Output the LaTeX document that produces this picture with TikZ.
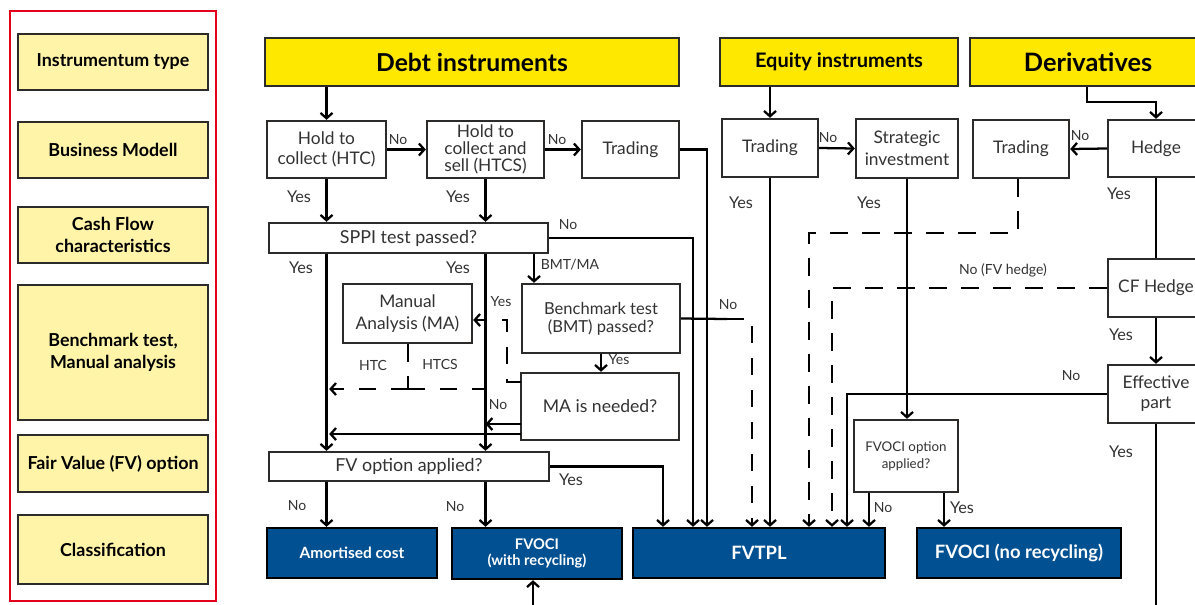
\documentclass[tikz,border=0pt]{standalone}
\usepackage{fontspec}
\setmainfont{Lato}
\usetikzlibrary{arrows.meta,positioning}
\definecolor{hdyellow}{RGB}{255,232,0}
\definecolor{lpyellow}{RGB}{255,244,168}
\definecolor{ingblue}{RGB}{0,80,146}
\definecolor{boxline}{RGB}{45,42,42}
\definecolor{framered}{RGB}{226,0,26}
\definecolor{txtgray}{RGB}{50,50,50}

\begin{document}
\begin{tikzpicture}[line join=miter,>={Straight Barb[length=4pt,width=9pt]},x=0.75pt,y=-0.75pt,
  wh/.style 2 args={minimum width=#1*0.75pt,minimum height=#2*0.75pt},
  lpbox/.style={draw=boxline,line width=1.8pt,fill=lpyellow,align=center,inner sep=0pt,font=\bfseries\fontsize{13.4}{16.5}\selectfont},
  hdbox/.style={draw=boxline,line width=1.8pt,fill=hdyellow,inner sep=0pt},
  qbox/.style={draw=boxline,line width=1.8pt,fill=white,text=txtgray,align=center,inner sep=0pt,font=\fontsize{13}{15.5}\selectfont},
  clbox/.style={draw=black,line width=1.8pt,fill=ingblue,text=white,align=center,inner sep=0pt,font=\bfseries\fontsize{13.8}{16}\selectfont},
  lbl/.style={text=txtgray,inner sep=0pt,font=\fontsize{12.2}{13}\selectfont},
  slbl/.style={text=txtgray,inner sep=0pt,font=\fontsize{10.5}{12}\selectfont},
  conn/.style={line width=1.7pt},
  dline/.style={line width=1.7pt,dash pattern=on 13pt off 11pt}]
\useasboundingbox (0,0) rectangle (1195,604);
\clip (0,0) rectangle (1195,604);

% left panel
\draw[framered,line width=1.8pt] (10,11) rectangle (216,601);
\node[lpbox,wh={190}{56}] (lpType) at (113,62) {Instrumentum type};
\node[lpbox,wh={190}{56}] (lpModel) at (113,150) {Business Modell};
\node[lpbox,wh={190}{56}] (lpCash) at (113,235) {Cash Flow\\characteristics};
\node[lpbox,wh={190}{135}] (lpBench) at (113,352.5) {Benchmark test,\\Manual analysis};
\node[lpbox,wh={190}{57}] (lpFV) at (113,463.5) {Fair Value (FV) option};
\node[lpbox,wh={190}{69}] (lpClass) at (113,549.5) {Classification};

% instrument types
\node[hdbox,wh={414}{48},font=\bfseries\fontsize{18.5}{20}\selectfont] (debt) at (472,62) {Debt instruments};
\node[hdbox,wh={238}{48},font=\bfseries\fontsize{15}{16}\selectfont] (equity) at (839,62) {Equity instruments};
\node[hdbox,wh={236}{48},font=\bfseries\fontsize{19}{20}\selectfont] (deriv) at (1088,62) {Derivatives};

% business models
\node[qbox,wh={119}{57}] (htc) at (326.5,149.5) {Hold to\\collect (HTC)};
\node[qbox,wh={117}{57},font=\fontsize{13}{13}\selectfont] (htcs) at (485.5,149.5) {Hold to\\collect and\\sell (HTCS)};
\node[qbox,wh={97}{57}] (dtrade) at (630.5,149.5) {Trading};
\node[qbox,wh={96}{58}] (etrade) at (770,148) {Trading};
\node[qbox,wh={102}{59},font=\fontsize{13}{16.5}\selectfont] (strat) at (907,148.5) {Strategic\\investment};
\node[qbox,wh={96}{58}] (vtrade) at (1021,149) {Trading};
\node[qbox,wh={96}{57}] (hedge) at (1156,148.5) {Hedge};
\node[qbox,wh={96}{58}] (cfhedge) at (1156,288) {CF Hedge};
\node[qbox,wh={96}{58},font=\fontsize{13}{15}\selectfont] (effective) at (1156,394) {Effective\\part};

% tests
\node[qbox,wh={279}{30},font=\fontsize{13.4}{15}\selectfont] (sppi) at (408.5,238) {SPPI test passed?};
\node[qbox,wh={158}{69},font=\fontsize{12.4}{13.75}\selectfont] (bmt) at (601,318.5) {Benchmark test\\(BMT) passed?};
\node[qbox,wh={129}{59},font=\fontsize{13}{16}\selectfont] (mana) at (407.5,313.5) {Manual\\Analysis (MA)};
\node[qbox,wh={158}{67},font=\fontsize{13.2}{15}\selectfont] (maneed) at (600,406.5) {MA is needed?};
\node[qbox,wh={280}{29},font=\fontsize{13.4}{15}\selectfont] (fvopt) at (409,466.5) {FV option applied?};
\node[qbox,wh={104}{72},font=\fontsize{10}{12.5}\selectfont] (fvociopt) at (906,456) {FVOCI option\\applied?};

% classification
\node[clbox,wh={170}{50},font=\bfseries\fontsize{11.6}{12}\selectfont] (amort) at (352,553) {Amortised cost};
\node[clbox,wh={170}{51},font=\bfseries\fontsize{11}{12.5}\selectfont] (fvocirec) at (537,553.5) {FVOCI\\(with recycling)};
\node[clbox,wh={252}{50}] (fvtpl) at (759,553) {FVTPL};
\node[clbox,wh={204}{50}] (fvocinr) at (1019,553) {FVOCI (no recycling)};

\coordinate (lnFVyes) at (663,0);
\coordinate (lnSPPIno) at (693,0);
\coordinate (lnDtrade) at (707,0);
\coordinate (lnBMTno) at (752,0);
\coordinate (lnVtrade) at (809,0);
\coordinate (lnFVhedge) at (832,0);
\coordinate (lnEff) at (847,0);
\coordinate (lnOptNo) at (869,0);
\coordinate (lnOptYes) at (944,0);
\coordinate (lnBMT) at (534,0);
\coordinate (dbend) at (1087,102);
\coordinate (vbend) at (1018,233);
\coordinate (bmtmid) at (727,319);
\coordinate (mnNo) at (521,424);
\coordinate (mnLow) at (521,434);
\coordinate (mnYes) at (521,382);
\coordinate (mybend) at (507,320);
\coordinate (mabr) at (408,389);
\coordinate (recin) at (533,610);
\coordinate (effout) at (1156,610);

% debt instruments
\draw[conn,->] (htc.north |- debt.south) -- (htc.north);
\draw[conn,->] (htc.east) -- (htcs.west);
\draw[conn,->] (htcs.east) -- (dtrade.west);
\draw[conn,->] (dtrade.east) -| (lnDtrade |- fvtpl.north);
\draw[conn,->] (htc.south) -- (htc.south |- sppi.north);
\draw[conn,->] (htcs.south) -- (htcs.south |- sppi.north);
\draw[conn,->] (sppi.east) -| (lnSPPIno |- fvtpl.north);
\draw[conn,->] (sppi.south -| htc.south) -- (htc.south |- fvopt.north);
\draw[conn,->] (sppi.south -| htcs.south) -- (htcs.south |- fvopt.north);
\draw[conn,->] (sppi.south -| lnBMT) -- (lnBMT |- bmt.north);
\draw[conn,->] (bmt.south) -- (bmt.south |- maneed.north);
\draw[conn] (bmt.east) -- (bmtmid);
\draw[dline,->] (bmtmid) -| (lnBMTno |- fvtpl.north);
\draw[conn,->] (mnNo) -- (mnNo -| htcs.south);
\draw[conn,->,shorten >=2pt] (mnLow) -- (mnLow -| htc.south);
\draw[dline,->] (mnYes) -| (mybend) -- (mybend -| mana.east);
\draw[dline] (mana.south -| mabr) -- (mabr);
\draw[dline,->,shorten >=2pt] (mabr) -- (mabr -| htc.south);
\draw[dline] (mabr) -- (mabr -| htcs.south);
\draw[conn,->] (fvopt.south -| htc.south) -- (htc.south |- amort.north);
\draw[conn,->] (fvopt.south -| htcs.south) -- (htcs.south |- fvocirec.north);
\draw[conn,->] (fvopt.east) -| (lnFVyes |- fvtpl.north);
\draw[conn,->] (recin) -- (recin |- fvocirec.south);

% equity instruments
\draw[conn,->] (etrade.north |- equity.south) -- (etrade.north);
\draw[conn,->] (etrade.east) -- (strat.west);
\draw[conn,->] (etrade.south) -- (etrade.south |- fvtpl.north);
\draw[conn,->] (strat.south) -- (strat.south |- fvociopt.north);
\draw[conn,->] (fvociopt.south -| lnOptNo) -- (lnOptNo |- fvtpl.north);
\draw[conn,->] (fvociopt.south -| lnOptYes) -- (lnOptYes |- fvocinr.north);

% derivatives
\draw[conn,->] (dbend |- deriv.south) -- (dbend) -| (hedge.north);
\draw[conn,->] (hedge.west) -- (vtrade.east);
\draw[conn] (hedge.south) -- (cfhedge.north);
\draw[conn,->] (cfhedge.south) -- (effective.north);
\draw[conn] (effective.south) -- (effout);
\draw[conn,->] (effective.west) -| (lnEff |- fvtpl.north);
\draw[dline,->] (cfhedge.west) -| (lnFVhedge |- fvtpl.north);
\draw[dline,->] (vtrade.south -| vbend) |- (lnVtrade |- vbend) -- (lnVtrade |- fvtpl.north);

% labels
\node[slbl] (nHtc) at (398,140) {No};
\node[slbl] (nHtcs) at (557,140) {No};
\node[lbl] (yHtc) at (299,197) {Yes};
\node[lbl] (yHtcs) at (458,197) {Yes};
\node[slbl] (nSppi) at (568,225) {No};
\node[lbl] (ySppiL) at (301,268) {Yes};
\node[lbl] (ySppiR) at (458,268) {Yes};
\node[slbl] (bmtma) at (570,265) {BMT/MA};
\node[slbl] (yBmt) at (619,360) {Yes};
\node[slbl] (yMa) at (501,302) {Yes};
\node[slbl] (htcLbl) at (373,365) {HTC};
\node[slbl] (htcsLbl) at (440,364) {HTCS};
\node[slbl] (nMa) at (498,405) {No};
\node[slbl] (nBmt) at (728,305) {No};
\node[lbl] (yFv) at (571,480) {Yes};
\node[slbl] (nFvL) at (297,506) {No};
\node[slbl] (nFvR) at (455,507) {No};
\node[lbl] (yEq) at (741,203) {Yes};
\node[slbl] (nEq) at (828,138) {No};
\node[lbl] (yStrat) at (869,203) {Yes};
\node[slbl] (nHedge) at (1080,136) {No};
\node[lbl] (yHedge) at (1119,194) {Yes};
\node[slbl] (nFvh) at (1003,270) {No (FV hedge)};
\node[lbl] (yCf) at (1121,335) {Yes};
\node[slbl] (nEff) at (1071,376) {No};
\node[lbl] (yEff) at (1121,452) {Yes};
\node[slbl] (nOpt) at (883,508) {No};
\node[lbl] (yOpt) at (962,508) {Yes};
\end{tikzpicture}
\end{document}
